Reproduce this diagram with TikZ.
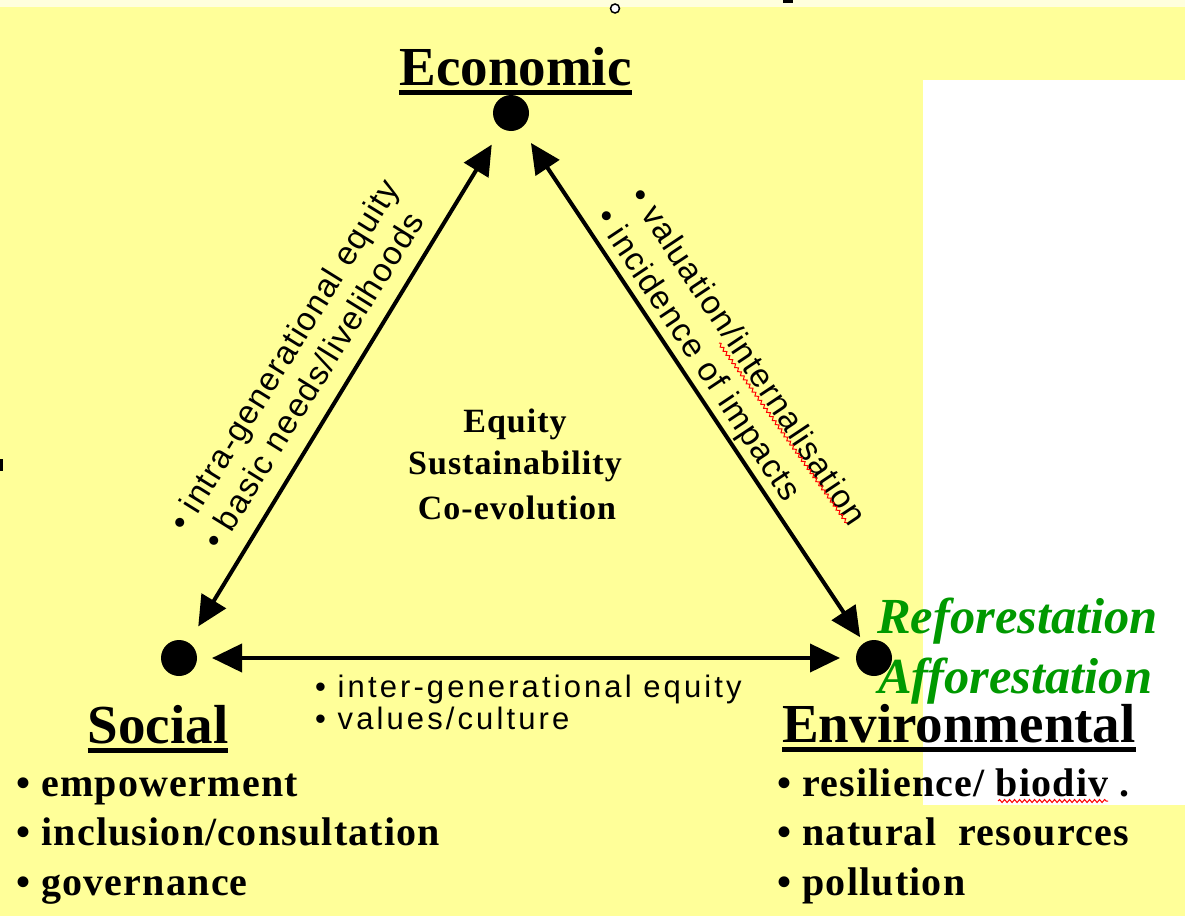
\documentclass[tikz,border=0pt]{standalone}
\usepackage{fontspec}
\setmainfont{Liberation Serif}
\newfontfamily\lsans[LetterSpace=4]{Liberation Sans}
\newfontfamily\lsanswide[LetterSpace=10]{Liberation Sans}
\newfontfamily\lserifsp[LetterSpace=3]{Liberation Serif}
\usetikzlibrary{arrows.meta,decorations.pathmorphing}
\definecolor{bgyellow}{RGB}{255,255,153}
\definecolor{topcream}{RGB}{255,255,221}
\definecolor{forestgreen}{RGB}{0,153,0}
\begin{document}
\begin{tikzpicture}[x=1bp,y=-1bp,
  dot/.style={circle,fill=black,inner sep=0,outer sep=0,minimum size=36bp},
  link/.style={line width=4bp,{Triangle[length=30bp,width=28bp]}-{Triangle[length=30bp,width=28bp]}},
  title/.style={inner sep=0,anchor=base,font=\fontsize{55bp}{60bp}\selectfont\bfseries},
  ul/.style={line width=4.5bp},
  item/.style={inner sep=0,anchor=base west,font=\lserifsp\fontsize{40bp}{44bp}\selectfont\bfseries},
  mid/.style={inner sep=0,anchor=base,font=\lserifsp\fontsize{34bp}{40bp}\selectfont\bfseries},
  edgelab/.style={inner sep=0,anchor=base west,font=\lsans\fontsize{33bp}{38bp}\selectfont},
  baselab/.style={inner sep=0,anchor=base west,font=\lsanswide\fontsize{31bp}{34bp}\selectfont},
  treelab/.style={inner sep=0,anchor=base west,text=forestgreen,font=\fontsize{50.5bp}{55bp}\selectfont\bfseries\itshape},
  squig/.style={red,line width=1bp,decorate,decoration={snake,amplitude=1.5bp,segment length=5bp}}
]
% background
\fill[bgyellow] (0,0) rectangle (1185,916);
\useasboundingbox (0,0) rectangle (1185,916);
\fill[white] (923,80) rectangle (1185,805);
\fill[topcream] (0,0) rectangle (1185,7.3);
\draw[fill=white,line width=1.5bp] (615,8.5) circle (4.5bp);
\fill[black] (783,0) rectangle (793,2.5);
\fill[black] (0,459) rectangle (2.5,471);

% corner dots
\node[dot] (eco) at (511,113) {};
\node[dot] (soc) at (179,658) {};
\node[dot] (env) at (874,658) {};

% connectors
\draw[link, shorten <=19bp, shorten >=19bp] (eco) -- (soc);
\draw[link, shorten <=18bp, shorten >=7bp] (eco) -- (env);
\draw[link, shorten <=15bp, shorten >=16bp] (soc) -- (env);

% titles
\node[title] (ecot) at (515.5,85) {Economic};
\draw[ul] ([yshift=-7.5bp]ecot.base west) -- ([yshift=-7.5bp]ecot.base east);
\node[title] (soct) at (158,743) {Social};
\draw[ul] ([yshift=-7.5bp]soct.base west) -- ([yshift=-7.5bp]soct.base east);
\node[title] (envt) at (959,742) {Environmental};
\draw[ul] ([yshift=-7.5bp]envt.base west) -- ([yshift=-7.5bp]envt.base east);

% edge labels
\node[edgelab, rotate=58.2] (l1) at (186,534) {• intra-generational equity};
\node[edgelab, rotate=58.2] (l2) at (220,552) {• basic needs/livelihoods};
\node[edgelab, rotate=-56.3] (r1) at (628,196.5) {• valuation/internalisation};
\node[edgelab, rotate=-56.3] (r2) at (594,217.5) {• incidence of impacts};
\node[baselab] (b1) at (315,697) {• inter-generational equity};
\node[baselab] (b2) at (315,729) {• values/culture};
\draw[squig] (719,343) -- (847,523);

% centre
\node[mid] (c1) at (515,432) {Equity};
\node[mid] (c2) at (515,474) {Sustainability};
\node[mid] (c3) at (517,519) {Co-evolution};

% lists
\node[item] (s1) at (16,796) {• empowerment};
\node[item] (s2) at (16,845) {• inclusion/consultation};
\node[item] (s3) at (16,895) {• governance};
\node[item] (e1) at (777,796) {• resilience/ biodiv .};
\node[item] (e2) at (777,845) {• natural~~resources};
\node[item] (e3) at (777,895) {• pollution};
\draw[squig] (998,801) -- (1108,801);

% green labels
\node[treelab] (ref) at (877,633) {Reforestation};
\node[treelab] (aff) at (878,693) {Afforestation};
\end{tikzpicture}
\end{document}
